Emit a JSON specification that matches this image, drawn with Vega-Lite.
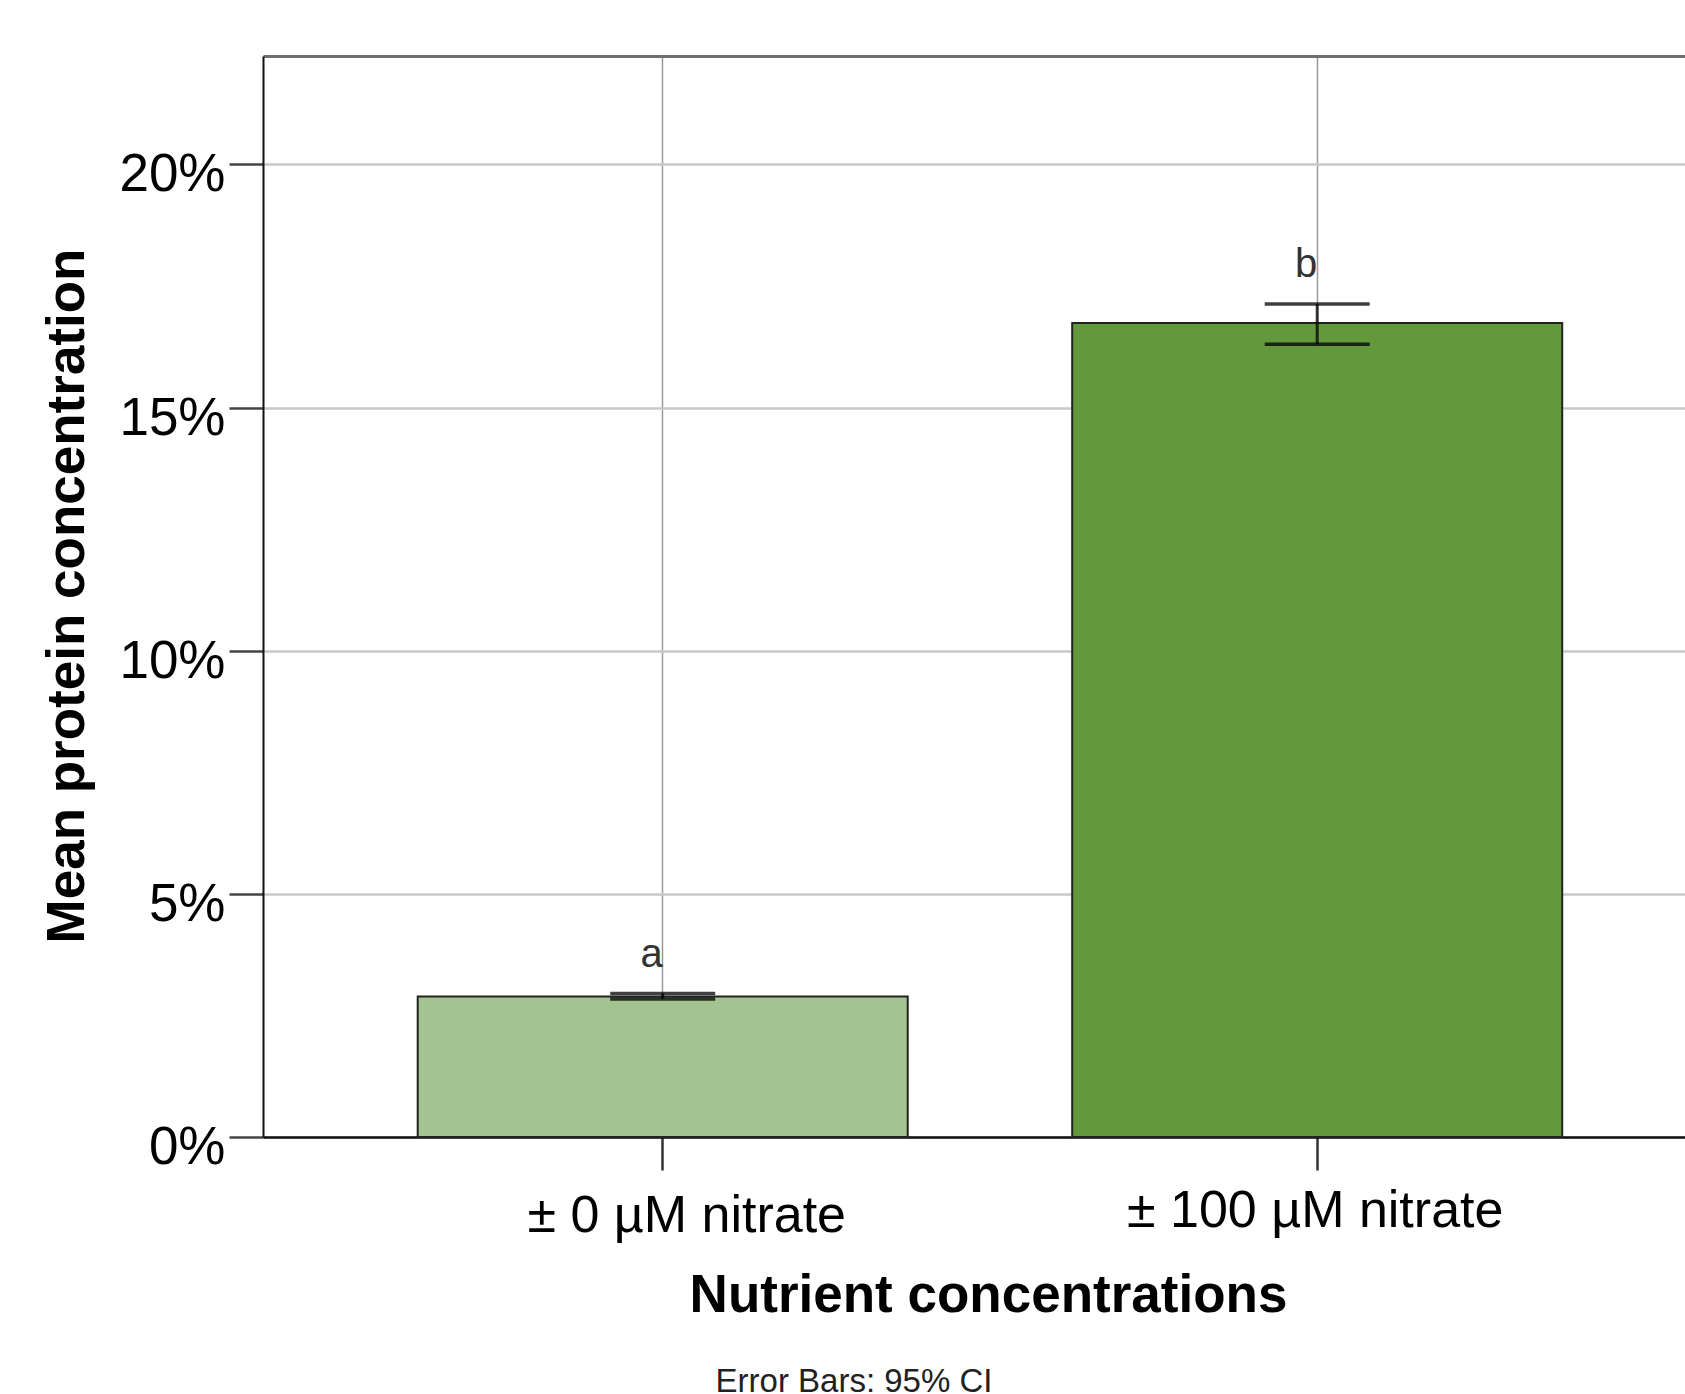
{
  "$schema": "https://vega.github.io/schema/vega-lite/v6.json",
  "width": 1422,
  "height": 1081,
  "autosize": {"type": "none"},
  "padding": {"left": 263, "top": 56, "right": 0, "bottom": 257},
  "background": "white",
  "config": {
    "view": {"stroke": null},
    "font": "Liberation Sans"
  },
  "title": {
    "text": "Error Bars: 95% CI",
    "orient": "bottom",
    "anchor": "middle",
    "frame": "group",
    "font": "Liberation Sans",
    "fontSize": 33,
    "fontWeight": "normal",
    "color": "#222222",
    "baseline": "top",
    "dx": -120,
    "offset": 44
  },
  "data": {
    "values": [
      {"group": "± 0 µM nitrate", "mean": 0.0289, "lo": 0.0284, "hi": 0.0295, "letter": "a"},
      {"group": "± 100 µM nitrate", "mean": 0.1674, "lo": 0.1630, "hi": 0.1713, "letter": "b"}
    ]
  },
  "resolve": {"axis": {"x": "independent"}},
  "layer": [
    {
      "mark": {"type": "bar", "stroke": "#222222", "strokeWidth": 2},
      "encoding": {
        "x": {
          "field": "group",
          "type": "nominal",
          "sort": null,
          "scale": {"paddingInner": 0.2513, "paddingOuter": 0.212, "align": 0.5575, "round": false},
          "axis": {
            "orient": "bottom",
            "title": "Nutrient concentrations",
            "titleFont": "Liberation Sans",
            "titleFontSize": 53,
            "titleFontWeight": "bold",
            "titleColor": "black",
            "titleX": 725,
            "titleY": 174,
            "titleBaseline": "alphabetic",
            "titleAlign": "center",
            "labelFont": "Liberation Sans",
            "labelFontSize": 52,
            "labelColor": "black",
            "labelAngle": 0,
            "labelBaseline": "top",
            "labelAlign": "center",
            "labelLimit": 0,
            "labelOffset": {"condition": {"test": "datum.value === '± 0 µM nitrate'", "value": 24}, "value": -2},
            "labelPadding": {"condition": {"test": "datum.value === '± 0 µM nitrate'", "value": 20}, "value": 15},
            "labelOverlap": false,
            "labelBound": false,
            "labelFlush": false,
            "bandPosition": 0.5,
            "ticks": true,
            "tickSize": 33,
            "tickColor": "#333333",
            "tickWidth": 2.5,
            "domain": true,
            "domainColor": "#111111",
            "domainWidth": 2.5,
            "grid": true,
            "gridColor": "#9a9a9a",
            "gridWidth": 1.5
          }
        },
        "y": {
          "field": "mean",
          "type": "quantitative",
          "scale": {"domain": [0, 0.2223], "nice": false, "zero": true},
          "axis": {
            "title": "Mean protein concentration",
            "titleFont": "Liberation Sans",
            "titleFontSize": 53,
            "titleFontWeight": "bold",
            "titleColor": "black",
            "titleAngle": -90,
            "titleX": -180,
            "titleY": 539.5,
            "titleBaseline": "alphabetic",
            "titleAlign": "center",
            "values": [0, 0.05, 0.1, 0.15, 0.2],
            "format": ".0%",
            "labelFont": "Liberation Sans",
            "labelFontSize": 53,
            "labelColor": "black",
            "labelBaseline": "alphabetic",
            "labelOffset": 26.5,
            "labelPadding": 4,
            "labelLimit": 0,
            "labelOverlap": false,
            "labelBound": false,
            "labelFlush": false,
            "tickSize": 34,
            "tickColor": "#444444",
            "tickWidth": 2.5,
            "domain": true,
            "domainColor": "#111111",
            "domainWidth": 2,
            "grid": true,
            "gridColor": "#c8c8c8",
            "gridWidth": 2.5
          }
        },
        "color": {
          "field": "group",
          "type": "nominal",
          "sort": null,
          "scale": {"range": ["#a3c490", "#63993d"]},
          "legend": null
        }
      }
    },
    {
      "mark": {"type": "rule", "color": "black", "opacity": 0.75, "strokeWidth": 3},
      "encoding": {
        "x": {
          "field": "group",
          "type": "nominal",
          "sort": null,
          "axis": {
            "orient": "top",
            "title": null,
            "labels": false,
            "ticks": false,
            "grid": false,
            "domain": true,
            "domainColor": "#707070",
            "domainWidth": 3
          }
        },
        "y": {"field": "lo", "type": "quantitative"},
        "y2": {"field": "hi"}
      }
    },
    {
      "mark": {"type": "tick", "color": "black", "opacity": 0.75, "thickness": 3.5, "size": 105},
      "encoding": {
        "x": {"field": "group", "type": "nominal", "sort": null, "axis": null},
        "y": {"field": "hi", "type": "quantitative"}
      }
    },
    {
      "mark": {"type": "tick", "color": "black", "opacity": 0.75, "thickness": 3.5, "size": 105},
      "encoding": {
        "x": {"field": "group", "type": "nominal", "sort": null, "axis": null},
        "y": {"field": "lo", "type": "quantitative"}
      }
    },
    {
      "mark": {"type": "text", "font": "Liberation Sans", "fontSize": 40, "color": "#333333", "align": "right", "baseline": "alphabetic", "dx": 0, "dy": -27},
      "encoding": {
        "x": {"field": "group", "type": "nominal", "sort": null, "axis": null},
        "y": {"field": "hi", "type": "quantitative"},
        "text": {"field": "letter"}
      }
    }
  ]
}
